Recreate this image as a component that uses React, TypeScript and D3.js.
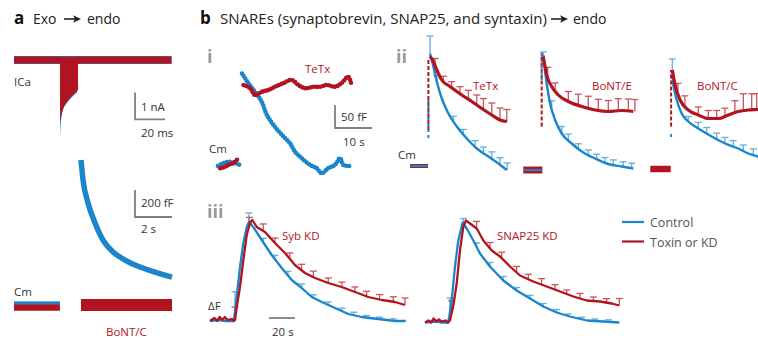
import React from 'react';
import * as d3 from 'd3';

type Pt = [number, number];

const BLUE = '#1b85cb';
const RED = '#b1141f';
const BLUE_ERR = '#63aee0';
const RED_ERR = '#c8545d';
const GRAY = '#808080';
const TXT = '#333';
const FONT = "'Open Sans', 'Noto Sans', sans-serif";

// ---- panel a: ICa (ms, nA) ----
const icaBaseline: Pt[] = [[0, 0], [105, 0]];
const icaControl: Pt[] = [[30.7, -2.93], [31.3, -2.3], [32.7, -1.85], [35.3, -1.59], [38.7, -1.37], [42, -1.19]];
const icaToxin: Pt[] = [[30.7, -2.3], [32, -1.93], [34, -1.67], [37.3, -1.41], [40.7, -1.22], [42.7, -1.11]];

// ---- panel a: Cm (s, fF) ----
const cmPreControlA: Pt[] = [[-3.62, 15], [-1.14, 15]];
const cmPreToxinA: Pt[] = [[-3.62, -10], [-1.14, -10]];
const cmControlA: Pt[] = [[0, 1074], [0.11, 926], [0.38, 756], [0.76, 607], [1.19, 481], [1.73, 393], [2.38, 333], [3.19, 281], [4.0, 244], [4.92, 207]];
const cmToxinA: Pt[] = [[0, 0], [4.92, 0]];

// ---- panel b-i: Cm dots (s, fF) ----
const iPreControl: Pt[] = [[-6.5, -2], [-5.1, 4], [-3.8, 7], [-1.9, 4], [-0.5, 0]];
const iPreToxin: Pt[] = [[-5.9, -7], [-4.6, -4], [-3.8, 0], [-2.4, 4], [-1.4, 11], [-1.1, 15]];
const iControl: Pt[] = [[0, 199], [1.7, 178], [3.5, 159], [5.3, 138], [6.7, 109], [8.9, 83], [11.2, 62], [13, 47], [14.3, 29], [16.1, 15], [18.4, 0], [20.2, -7], [21.5, -18], [23.3, -7], [25.1, 0], [26.5, 15], [27.4, 0], [29.2, -2]];
const iToxin: Pt[] = [[0.4, 174], [2.2, 167], [3.5, 152], [5.3, 159], [7.1, 163], [8.9, 170], [11.2, 178], [13.4, 185], [15.2, 174], [17, 167], [19.3, 170], [21.1, 170], [22.9, 174], [25.1, 170], [26.9, 178], [28.7, 192], [29.6, 174]];

// ---- panel b-ii: Cm (s, fF) ----
const tetxPre: Pt[] = [[-10, 0], [-1, 0]];
const tetxJumpControl: Pt[] = [[-0.8, 56], [-0.8, 132]];
const tetxJumpToxin: Pt[] = [[-0.8, 72], [-0.8, 216]];
const tetxControl: Pt[] = [[0, 225], [1.7, 199], [3.4, 169], [5.9, 135], [9.2, 105], [13.4, 79], [18.4, 55], [23.4, 35], [29.2, 19], [34.2, 5], [38.4, -8]];
const tetxToxin: Pt[] = [[0, 219], [1.7, 209], [3.4, 192], [5.9, 172], [10, 159], [15.9, 142], [20.9, 129], [25.9, 115], [30.9, 102], [35, 92], [38.4, 89]];
const tetxErrControl: Pt[] = [[0, 35], [3.4, 12], [11.7, 10], [16.7, 10], [22.5, 12], [26.7, 12], [30.9, 14], [35, 14], [38.6, 14]];
const tetxErrToxin: Pt[] = [[2.5, 14], [6.7, 10], [10.8, 12], [15, 14], [19.2, 18], [23.4, 20], [26.7, 22], [30.9, 24], [35, 24], [38.4, 24]];

const bontePre: Pt[] = [[-10, 0], [-0.5, 0]];
const bonteJumpControl: Pt[] = [[-0.8, 180], [-0.8, 232]];
const bonteJumpToxin: Pt[] = [[-0.8, 87], [-0.8, 234]];
const bonteControl: Pt[] = [[0, 230], [1.7, 173], [3.4, 133], [5.9, 100], [9.2, 73], [14.2, 53], [19.2, 37], [25.9, 23], [32.5, 12], [39.2, 7], [45, 3]];
const bonteToxin: Pt[] = [[0, 227], [1.7, 190], [4.2, 167], [7.5, 150], [12.5, 137], [19.2, 127], [25.9, 120], [32.5, 117], [39.2, 119], [45, 117]];
const bonteErrControl: Pt[] = [[0, 6], [4.2, 16], [9.2, 14], [12.5, 12], [17.5, 10], [22.5, 10], [26.7, 10], [30.8, 10], [35, 10], [40, 10], [44.2, 10]];
const bonteErrToxin: Pt[] = [[2.2, 20], [5.9, 16], [12.5, 20], [17.5, 22], [22.5, 24], [27.5, 22], [32.5, 22], [37.5, 24], [42.5, 24], [45.8, 24]];

const bontcPre: Pt[] = [[-11, 0], [-0.8, 0]];
const bontcJumpControl: Pt[] = [[-0.6, 64], [-0.6, 72]];
const bontcJumpToxin: Pt[] = [[-0.6, 85], [-0.6, 198]];
const bontcControl: Pt[] = [[0, 178], [2.2, 138], [4.7, 111], [8, 95], [13, 81], [19.7, 65], [26.4, 51], [33, 41], [38, 31], [42.9, 25], [46.3, 22]];
const bontcToxin: Pt[] = [[0, 198], [1.4, 168], [3.9, 138], [8, 118], [13, 108], [18, 101], [23, 101], [28, 108], [33, 115], [38, 118], [42.9, 119], [46.3, 120]];
const bontcErrControl: Pt[] = [[0, 42], [8, 10], [13, 12], [17.2, 12], [22.2, 12], [26.3, 12], [30.5, 12], [35.5, 12], [40.5, 12]];
const bontcErrToxin: Pt[] = [[2.8, 20], [6.3, 20], [13, 16], [18, 16], [22.2, 16], [26.3, 16], [31.3, 24], [35.5, 34], [39.7, 32], [42.2, 32]];

// ---- panel b-iii: ΔF (s, normalized) ----
const sybControl: Pt[] = [[-18.5, 0], [-12, 0.01], [-6, 0], [-0.8, 0], [0.2, 0.04], [2.1, 0.24], [4.6, 0.54], [7.2, 0.78], [9.8, 0.94], [11.5, 0.99], [14.8, 0.94], [21.3, 0.81], [29, 0.66], [36.7, 0.53], [44.4, 0.41], [52.1, 0.33], [59.8, 0.24], [67.5, 0.19], [77.7, 0.13], [87.9, 0.07], [98.2, 0.04], [111, 0.02], [123.8, 0], [132.1, 0]];
const sybToxin: Pt[] = [[-18.5, 0], [-15, 0.03], [-13, 0], [-11, 0.04], [-9, 0.01], [-7, 0.04], [-5, 0.01], [-2, 0.02], [0, 0], [0.8, 0.01], [2.1, 0.14], [4.6, 0.34], [7.2, 0.61], [9.8, 0.86], [12.3, 0.98], [14.1, 1.01], [17.5, 0.94], [23.8, 0.89], [31.5, 0.78], [39.2, 0.68], [46.9, 0.56], [54.6, 0.48], [62.3, 0.43], [72.5, 0.38], [82.8, 0.34], [93.1, 0.29], [103.3, 0.24], [113.6, 0.21], [123.8, 0.19], [131.5, 0.16]];
const sybErrControl: Pt[] = [[0.8, 0.19], [11.5, 0.09], [22.5, 0.04], [31.5, 0.04], [41.5, 0.04], [52, 0.04], [61, 0.03], [72.5, 0.03], [83, 0.03], [92, 0.03], [102, 0.02], [112, 0.02], [122.5, 0.02]];
const sybErrToxin: Pt[] = [[0.8, 0.13], [11.8, 0.08], [22.5, 0.07], [31.5, 0.05], [43, 0.06], [52, 0.06], [61, 0.06], [72.5, 0.05], [83, 0.05], [93, 0.05], [102, 0.05], [112, 0.05], [122.5, 0.05], [131.5, 0.07]];

const snapControl: Pt[] = [[-17.7, 0], [-10, 0.01], [-4, 0], [0, 0], [1, 0.06], [2.8, 0.22], [5.4, 0.56], [7.9, 0.82], [11.3, 1], [14.4, 0.94], [19.5, 0.82], [24.6, 0.69], [32.3, 0.56], [42.5, 0.42], [52.8, 0.32], [63.1, 0.24], [73.3, 0.16], [83.6, 0.1], [93.8, 0.06], [106.7, 0.02], [119.5, 0.01], [131.8, 0]];
const snapToxin: Pt[] = [[-17.7, 0], [-15, 0.02], [-13, 0], [-11, 0.04], [-9, 0.01], [-7, 0.03], [-5, 0.01], [-2, 0.02], [0, 0], [1.5, 0.02], [4.1, 0.17], [6.7, 0.39], [9.2, 0.72], [11.8, 0.96], [13.8, 1.02], [16.9, 0.99], [22.1, 0.94], [27.2, 0.82], [33.6, 0.72], [40, 0.66], [47.7, 0.56], [55.4, 0.47], [65.6, 0.41], [75.9, 0.36], [86.2, 0.31], [96.4, 0.26], [106.7, 0.22], [116.9, 0.21], [125.9, 0.19], [131.8, 0.17]];
const snapErrControl: Pt[] = [[1.5, 0.14], [11.8, 0.05], [22, 0.04], [32.3, 0.04], [42.5, 0.04], [52.8, 0.03], [63, 0.03], [73.3, 0.03], [83.6, 0.03], [92.5, 0.02], [102.8, 0.02], [113, 0.02], [123.3, 0.02]];
const snapErrToxin: Pt[] = [[2.8, 0.12], [22, 0.07], [32.3, 0.06], [41.3, 0.06], [52.8, 0.06], [61.8, 0.05], [72, 0.06], [82.3, 0.05], [91.3, 0.04], [101.5, 0.05], [111.8, 0.04], [122, 0.04], [131.8, 0.07]];

const legendItems = [
  { label: 'Control', color: BLUE },
  { label: 'Toxin or KD', color: RED },
];

type Scale = d3.ScaleLinear<number, number>;

// trace value at time t, used to stand an error bar on its line
function valueAt(series: Pt[], t: number) {
  const i = d3.bisector((d: Pt) => d[0]).left(series, t);
  if (i <= 0) return series[0][1];
  if (i >= series.length) return series[series.length - 1][1];
  const a = series[i - 1], b = series[i];
  return a[1] + (b[1] - a[1]) * (t - a[0]) / (b[0] - a[0]);
}

function Trace({ data, xs, ys, color, w, dash, curve }: { data: Pt[]; xs: Scale; ys: Scale; color: string; w: number; dash?: string; curve?: any }) {
  const gen = d3.line<Pt>().x(d => xs(d[0])).y(d => ys(d[1])).curve(curve || d3.curveMonotoneX);
  return (
    <path d={gen(data) || ''} fill="none" stroke={color} strokeWidth={w}
      strokeDasharray={dash} strokeLinecap={dash && dash.startsWith('0') ? 'round' : 'butt'} strokeLinejoin="round" />
  );
}

function ErrorBars({ series, errs, xs, ys, color }: { series: Pt[]; errs: Pt[]; xs: Scale; ys: Scale; color: string }) {
  return (
    <g stroke={color} strokeWidth={1.3}>
      {errs.map(([t, e], i) => {
        const x = xs(t);
        const v = valueAt(series, t);
        return (
          <g key={i}>
            <line x1={x} x2={x} y1={ys(v)} y2={ys(v + e)} />
            <line x1={x - 3.5} x2={x + 3.5} y1={ys(v + e)} y2={ys(v + e)} />
          </g>
        );
      })}
    </g>
  );
}

function Arrow({ x1, x2, y }: { x1: number; x2: number; y: number }) {
  return (
    <g>
      <line x1={x1} x2={x2 - 5} y1={y} y2={y} stroke="#222" strokeWidth={1.6} />
      <path d={`M${x2},${y} L${x2 - 8},${y - 3.8} L${x2 - 6},${y} L${x2 - 8},${y + 3.8} Z`} fill="#222" />
    </g>
  );
}

function ScaleBar({ x, y, w, h }: { x: number; y: number; w: number; h: number }) {
  return <path d={`M${x},${y - h} L${x},${y} L${x + w},${y}`} fill="none" stroke={GRAY} strokeWidth={1.8} />;
}

function Label({ x, y, children, color = TXT, size = 11.5, weight = 400, anchor = 'start' as any }: any) {
  return <text x={x} y={y} fill={color} fontSize={size} fontWeight={weight} textAnchor={anchor} fontFamily={FONT}>{children}</text>;
}

function IIPanel({ x0, y0, pre, jumpC, jumpT, ctrl, tox, errC, errT, showPreBlue, preW }: any) {
  const xs = d3.scaleLinear().domain([0, 1]).range([x0, x0 + 2]);
  const ys = d3.scaleLinear().domain([0, 1]).range([y0, y0 - 0.5]);
  return (
    <g>
      <Trace data={pre} xs={xs} ys={ys} color={RED} w={preW} />
      {showPreBlue && <Trace data={pre} xs={xs} ys={ys} color={BLUE} w={2.2} />}
      <ErrorBars series={ctrl} errs={errC} xs={xs} ys={ys} color={BLUE_ERR} />
      <ErrorBars series={tox} errs={errT} xs={xs} ys={ys} color={RED_ERR} />
      <Trace data={jumpT} xs={xs} ys={ys} color={RED} w={2} dash="4 2" />
      <Trace data={jumpC} xs={xs} ys={ys} color={BLUE} w={2} dash="3 3" />
      <Trace data={ctrl} xs={xs} ys={ys} color={BLUE} w={2.4} />
      <Trace data={tox} xs={xs} ys={ys} color={RED} w={3.2} />
    </g>
  );
}

function IIIPanel({ x0, y0, ctrl, tox, errC, errT }: any) {
  const xs = d3.scaleLinear().domain([0, 20]).range([x0, x0 + 26]);
  const ys = d3.scaleLinear().domain([0, 1]).range([y0, y0 - 100]);
  return (
    <g>
      <ErrorBars series={ctrl} errs={errC} xs={xs} ys={ys} color={BLUE_ERR} />
      <ErrorBars series={tox} errs={errT} xs={xs} ys={ys} color={RED_ERR} />
      <Trace data={ctrl} xs={xs} ys={ys} color={BLUE} w={2.3} curve={d3.curveLinear} />
      <Trace data={tox} xs={xs} ys={ys} color={RED} w={2.3} curve={d3.curveLinear} />
    </g>
  );
}

export default function App() {
  // panel a scales
  const icaX = d3.scaleLinear().domain([0, 105]).range([14, 171.5]);
  const icaY = d3.scaleLinear().domain([0, -1]).range([60, 87]);
  const cmAX = d3.scaleLinear().domain([0, 2]).range([81, 118]);
  const cmAY = d3.scaleLinear().domain([0, 200]).range([305, 278]);
  const icaArea = (data: Pt[]) =>
    d3.area<Pt>().x(d => icaX(d[0])).y0(icaY(0.08)).y1(d => icaY(d[1])).curve(d3.curveMonotoneX)(data) || '';

  // panel b-i scales
  const iX = d3.scaleLinear().domain([0, 10]).range([242, 279]);
  const iY = d3.scaleLinear().domain([0, 50]).range([165, 142]);

  return (
    <div style={{ position: 'absolute', left: 0, top: 0 }}>
      <svg width={758} height={339} style={{ display: 'block', background: '#fff' }}>
        {/* ---------- titles ---------- */}
        <Label x={14} y={24} size={17} weight={700} color="#111">a</Label>
        <Label x={33} y={24} size={14} color="#222">Exo</Label>
        <Arrow x1={64} x2={81} y={19} />
        <Label x={87} y={24} size={14} color="#222">endo</Label>

        <Label x={200} y={24} size={17} weight={700} color="#111">b</Label>
        <text x={220} y={24} fontSize={14} fill="#222" fontFamily={FONT} textLength={327} lengthAdjust="spacingAndGlyphs">
          SNAREs (synaptobrevin, SNAP25, and syntaxin)
        </text>
        <Arrow x1={551} x2={568} y={19} />
        <Label x={573} y={24} size={14} color="#222">endo</Label>

        {/* ---------- panel a: ICa ---------- */}
        <Trace data={icaBaseline} xs={icaX} ys={icaY} color={BLUE} w={8} />
        <Trace data={icaBaseline} xs={icaX} ys={icaY} color={RED} w={7} />
        <path d={icaArea(icaControl)} fill={BLUE} />
        <path d={icaArea(icaToxin)} fill={RED} />
        <Label x={14} y={86}>ICa</Label>
        <ScaleBar x={icaX(80.7)} y={icaY(-2.2)} w={icaX(20) - icaX(0)} h={icaY(-1) - icaY(0)} />
        <Label x={141} y={111}>1 nA</Label>
        <Label x={141} y={137}>20 ms</Label>

        {/* ---------- panel a: Cm ---------- */}
        <Trace data={cmPreToxinA} xs={cmAX} ys={cmAY} color={RED} w={9} />
        <Trace data={cmPreControlA} xs={cmAX} ys={cmAY} color={BLUE} w={3} />
        <Trace data={cmControlA} xs={cmAX} ys={cmAY} color={BLUE} w={5.5} />
        <Trace data={cmToxinA} xs={cmAX} ys={cmAY} color={RED} w={12} />
        <ScaleBar x={135} y={217} w={cmAX(2) - cmAX(0)} h={cmAY(0) - cmAY(200)} />
        <Label x={141} y={207}>200 fF</Label>
        <Label x={141} y={233}>2 s</Label>
        <Label x={14} y={296}>Cm</Label>
        <Label x={106} y={336} color={RED}>BoNT/C</Label>

        {/* ---------- panel b-i ---------- */}
        <Label x={207} y={63} size={18} weight={700} color="#9a9a9a">i</Label>
        <Trace data={iPreControl} xs={iX} ys={iY} color={BLUE} w={4.6} dash="0 3.2" curve={d3.curveCatmullRom} />
        <Trace data={iPreToxin} xs={iX} ys={iY} color={RED} w={4.6} dash="0 3.2" curve={d3.curveCatmullRom} />
        <Trace data={iControl} xs={iX} ys={iY} color={BLUE} w={4.6} dash="0 3" curve={d3.curveCatmullRom} />
        <Trace data={iToxin} xs={iX} ys={iY} color={RED} w={4.6} dash="0 3" curve={d3.curveCatmullRom} />
        <Label x={305} y={73} color={RED}>TeTx</Label>
        <ScaleBar x={335} y={128} w={iX(10) - iX(0)} h={iY(0) - iY(50)} />
        <Label x={341} y={121}>50 fF</Label>
        <Label x={343} y={146}>10 s</Label>
        <Label x={209} y={153}>Cm</Label>

        {/* ---------- panel b-ii ---------- */}
        <Label x={396} y={63} size={18} weight={700} color="#9a9a9a">ii</Label>
        <IIPanel x0={430} y0={166} pre={tetxPre} jumpC={tetxJumpControl} jumpT={tetxJumpToxin}
          ctrl={tetxControl} tox={tetxToxin} errC={tetxErrControl} errT={tetxErrToxin} showPreBlue preW={4} />
        <IIPanel x0={543.3} y0={170} pre={bontePre} jumpC={bonteJumpControl} jumpT={bonteJumpToxin}
          ctrl={bonteControl} tox={bonteToxin} errC={bonteErrControl} errT={bonteErrToxin} showPreBlue preW={7} />
        <IIPanel x0={672.3} y0={169} pre={bontcPre} jumpC={bontcJumpControl} jumpT={bontcJumpToxin}
          ctrl={bontcControl} tox={bontcToxin} errC={bontcErrControl} errT={bontcErrToxin} preW={6.5} />
        <Label x={473} y={90} color={RED}>TeTx</Label>
        <Label x={592} y={90} color={RED}>BoNT/E</Label>
        <Label x={697} y={90} color={RED}>BoNT/C</Label>
        <Label x={398} y={159}>Cm</Label>

        {/* ---------- panel b-iii ---------- */}
        <Label x={207} y={218} size={18} weight={700} color="#9a9a9a">iii</Label>
        <IIIPanel x0={234} y0={321} ctrl={sybControl} tox={sybToxin} errC={sybErrControl} errT={sybErrToxin} />
        <IIIPanel x0={448} y0={322.5} ctrl={snapControl} tox={snapToxin} errC={snapErrControl} errT={snapErrToxin} />
        <Label x={282} y={240} color={RED}>Syb KD</Label>
        <Label x={497} y={240} color={RED}>SNAP25 KD</Label>
        <Label x={208} y={310}>ΔF</Label>
        <line x1={269} x2={295} y1={318} y2={318} stroke={GRAY} strokeWidth={1.8} />
        <Label x={272} y={336}>20 s</Label>

        {/* legend */}
        {legendItems.map((it, i) => (
          <g key={it.label} transform={`translate(622,${222 + i * 19.5})`}>
            <line x1={0} x2={22} y1={0} y2={0} stroke={it.color} strokeWidth={2.2} />
            <Label x={28} y={5} size={12.5} color="#555">{it.label}</Label>
          </g>
        ))}
      </svg>
    </div>
  );
}
